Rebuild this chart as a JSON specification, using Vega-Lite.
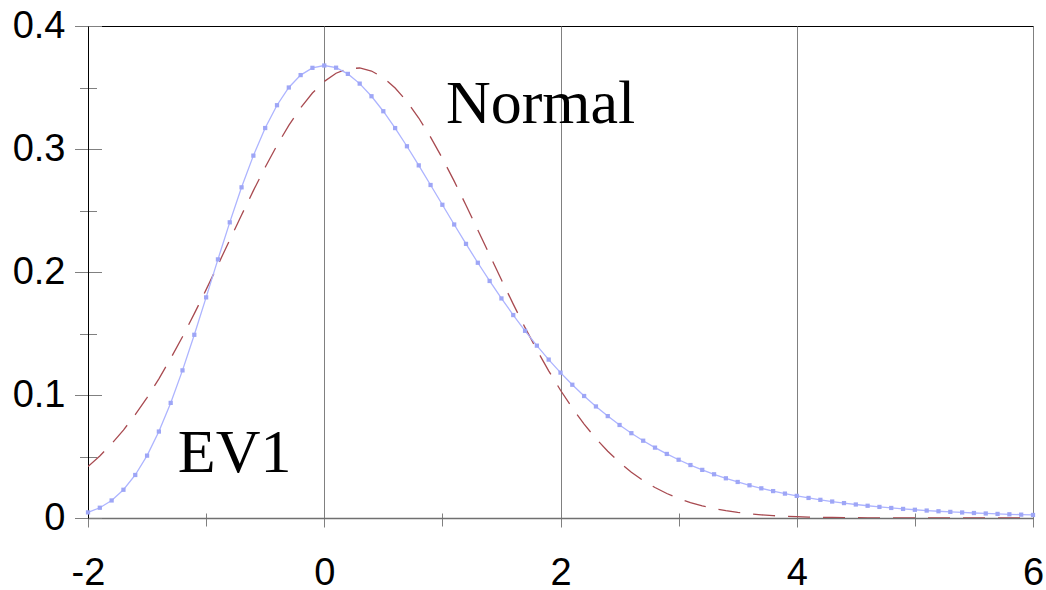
{
  "$schema": "https://vega.github.io/schema/vega-lite/v6.json",
  "width": 945,
  "height": 492,
  "autosize": {"type": "none"},
  "padding": {"left": 88, "top": 26, "right": 13, "bottom": 72},
  "background": "white",
  "config": {
    "view": {"stroke": "#000000", "strokeWidth": 1},
    "axis": {"labelFont": "Liberation Sans", "labelFontSize": 38, "labelColor": "#000000", "title": null}
  },
  "datasets": {
    "ev1": [
      {"x": -2.0, "y": 0.00457}, {"x": -1.9, "y": 0.00834}, {"x": -1.8, "y": 0.01426}, {"x": -1.7, "y": 0.02296},
      {"x": -1.6, "y": 0.03497}, {"x": -1.5, "y": 0.05071}, {"x": -1.4, "y": 0.07029}, {"x": -1.3, "y": 0.09358},
      {"x": -1.2, "y": 0.12002}, {"x": -1.1, "y": 0.14895}, {"x": -1.0, "y": 0.17937}, {"x": -0.9, "y": 0.21025},
      {"x": -0.8, "y": 0.24038}, {"x": -0.7, "y": 0.26884}, {"x": -0.6, "y": 0.2946}, {"x": -0.5, "y": 0.31705},
      {"x": -0.4, "y": 0.3356}, {"x": -0.3, "y": 0.35}, {"x": -0.2, "y": 0.36009}, {"x": -0.1, "y": 0.36598},
      {"x": 0.0, "y": 0.36788}, {"x": 0.1, "y": 0.36611}, {"x": 0.2, "y": 0.36105}, {"x": 0.3, "y": 0.35316},
      {"x": 0.4, "y": 0.3429}, {"x": 0.5, "y": 0.3307}, {"x": 0.6, "y": 0.31701}, {"x": 0.7, "y": 0.30222},
      {"x": 0.8, "y": 0.28669}, {"x": 0.9, "y": 0.27074}, {"x": 1.0, "y": 0.25465}, {"x": 1.1, "y": 0.23862},
      {"x": 1.2, "y": 0.22286}, {"x": 1.3, "y": 0.20752}, {"x": 1.4, "y": 0.19271}, {"x": 1.5, "y": 0.17851},
      {"x": 1.6, "y": 0.16499}, {"x": 1.7, "y": 0.15218}, {"x": 1.8, "y": 0.14011}, {"x": 1.9, "y": 0.12879},
      {"x": 2.0, "y": 0.1182}, {"x": 2.1, "y": 0.10834}, {"x": 2.2, "y": 0.09918}, {"x": 2.3, "y": 0.09069},
      {"x": 2.4, "y": 0.08285}, {"x": 2.5, "y": 0.07562}, {"x": 2.6, "y": 0.06896}, {"x": 2.7, "y": 0.06284},
      {"x": 2.8, "y": 0.05722}, {"x": 2.9, "y": 0.05208}, {"x": 3.0, "y": 0.04737}, {"x": 3.1, "y": 0.04306},
      {"x": 3.2, "y": 0.03913}, {"x": 3.3, "y": 0.03555}, {"x": 3.4, "y": 0.03228}, {"x": 3.5, "y": 0.0293},
      {"x": 3.6, "y": 0.02659}, {"x": 3.7, "y": 0.02412}, {"x": 3.8, "y": 0.02188}, {"x": 3.9, "y": 0.01984},
      {"x": 4.0, "y": 0.01798}, {"x": 4.1, "y": 0.0163}, {"x": 4.2, "y": 0.01477}, {"x": 4.3, "y": 0.01339},
      {"x": 4.4, "y": 0.01213}, {"x": 4.5, "y": 0.01099}, {"x": 4.6, "y": 0.00995}, {"x": 4.7, "y": 0.00901},
      {"x": 4.8, "y": 0.00816}, {"x": 4.9, "y": 0.00739}, {"x": 5.0, "y": 0.00669}, {"x": 5.1, "y": 0.00606},
      {"x": 5.2, "y": 0.00549}, {"x": 5.3, "y": 0.00497}, {"x": 5.4, "y": 0.0045}, {"x": 5.5, "y": 0.00407},
      {"x": 5.6, "y": 0.00368}, {"x": 5.7, "y": 0.00333}, {"x": 5.8, "y": 0.00302}, {"x": 5.9, "y": 0.00273},
      {"x": 6.0, "y": 0.00247}
    ],
    "normal": [
      {"x": -2.0, "y": 0.04185}, {"x": -1.9, "y": 0.05044}, {"x": -1.8, "y": 0.06031}, {"x": -1.7, "y": 0.07149},
      {"x": -1.6, "y": 0.08402}, {"x": -1.5, "y": 0.09793}, {"x": -1.4, "y": 0.11318}, {"x": -1.3, "y": 0.12971},
      {"x": -1.2, "y": 0.14741}, {"x": -1.1, "y": 0.16613}, {"x": -1.0, "y": 0.18566}, {"x": -0.9, "y": 0.20573},
      {"x": -0.8, "y": 0.22607}, {"x": -0.7, "y": 0.24633}, {"x": -0.6, "y": 0.26616}, {"x": -0.5, "y": 0.28518},
      {"x": -0.4, "y": 0.303}, {"x": -0.3, "y": 0.31923}, {"x": -0.2, "y": 0.33351}, {"x": -0.1, "y": 0.34551},
      {"x": 0.0, "y": 0.35494}, {"x": 0.1, "y": 0.36158}, {"x": 0.2, "y": 0.36525}, {"x": 0.3, "y": 0.36586},
      {"x": 0.4, "y": 0.36341}, {"x": 0.5, "y": 0.35794}, {"x": 0.6, "y": 0.3496}, {"x": 0.7, "y": 0.3386},
      {"x": 0.8, "y": 0.32519}, {"x": 0.9, "y": 0.3097}, {"x": 1.0, "y": 0.29247}, {"x": 1.1, "y": 0.27389},
      {"x": 1.2, "y": 0.25433}, {"x": 1.3, "y": 0.2342}, {"x": 1.4, "y": 0.21385}, {"x": 1.5, "y": 0.19364},
      {"x": 1.6, "y": 0.17386}, {"x": 1.7, "y": 0.15479}, {"x": 1.8, "y": 0.13665}, {"x": 1.9, "y": 0.11963},
      {"x": 2.0, "y": 0.10387}, {"x": 2.1, "y": 0.08941}, {"x": 2.2, "y": 0.07633}, {"x": 2.3, "y": 0.0646},
      {"x": 2.4, "y": 0.05423}, {"x": 2.5, "y": 0.04515}, {"x": 2.6, "y": 0.03726}, {"x": 2.7, "y": 0.0305},
      {"x": 2.8, "y": 0.02476}, {"x": 2.9, "y": 0.01992}, {"x": 3.0, "y": 0.0159}, {"x": 3.1, "y": 0.01258},
      {"x": 3.2, "y": 0.00987}, {"x": 3.3, "y": 0.00769}, {"x": 3.4, "y": 0.00593}, {"x": 3.5, "y": 0.00454},
      {"x": 3.6, "y": 0.00344}, {"x": 3.7, "y": 0.00259}, {"x": 3.8, "y": 0.00193}, {"x": 3.9, "y": 0.00143},
      {"x": 4.0, "y": 0.00105}, {"x": 4.1, "y": 0.00076}, {"x": 4.2, "y": 0.00055}, {"x": 4.3, "y": 0.00039},
      {"x": 4.4, "y": 0.00028}, {"x": 4.5, "y": 0.0002}, {"x": 4.6, "y": 0.00014}, {"x": 4.7, "y": 0.00009},
      {"x": 4.8, "y": 0.00007}, {"x": 4.9, "y": 0.00004}, {"x": 5.0, "y": 0.00003}, {"x": 5.1, "y": 0.00002},
      {"x": 5.2, "y": 0.00001}, {"x": 5.3, "y": 0.00001}, {"x": 5.4, "y": 0.0}, {"x": 5.5, "y": 0.0},
      {"x": 5.6, "y": 0.0}, {"x": 5.7, "y": 0.0}, {"x": 5.8, "y": 0.0}, {"x": 5.9, "y": 0.0}, {"x": 6.0, "y": 0.0}
    ],
    "labels": [
      {"x": 1.03, "y": 0.3212, "label": "Normal"},
      {"x": -1.24, "y": 0.0374, "label": "EV1"}
    ]
  },
  "layer": [
    {
      "data": {"name": "normal"},
      "mark": {"type": "line", "color": "#a84a50", "strokeWidth": 1.3, "strokeDash": [22, 13], "clip": true},
      "encoding": {
        "x": {"field": "x", "type": "quantitative", "scale": {"domain": [-2, 6], "nice": false, "zero": false},
          "axis": {"orient": "bottom", "values": [-1, 1, 3, 5], "labels": false, "domain": false, "grid": false,
            "ticks": true, "tickSize": 13, "offset": -5, "tickColor": "#808080", "tickWidth": 1}},
        "y": {"field": "y", "type": "quantitative", "scale": {"domain": [0, 0.4], "nice": false},
          "axis": {"orient": "left", "values": [0.05, 0.15, 0.25, 0.35], "labels": false, "domain": false, "grid": false,
            "ticks": true, "tickSize": 17, "offset": -8.5, "tickColor": "#808080", "tickWidth": 1}}
      }
    },
    {
      "data": {"name": "labels"},
      "mark": {"type": "text", "font": "Liberation Serif", "fontSize": 62, "align": "left", "baseline": "alphabetic", "color": "#000000"},
      "encoding": {
        "x": {"field": "x", "type": "quantitative",
          "axis": {"orient": "bottom", "values": [-2, 0, 2, 4, 6], "labels": false, "domain": false, "grid": false,
            "ticks": true, "tickSize": 9, "tickColor": "#808080", "tickWidth": 1}},
        "y": {"field": "y", "type": "quantitative",
          "axis": {"orient": "left", "values": [0, 0.1, 0.2, 0.3, 0.4], "labels": false, "domain": false, "grid": false,
            "ticks": true, "tickSize": 27, "offset": -13.5, "tickColor": "#808080", "tickWidth": 1}},
        "text": {"field": "label", "type": "nominal"}
      }
    },
    {
      "data": {"name": "ev1"},
      "mark": {"type": "line", "color": "#adb4ff", "strokeWidth": 1.3,
        "point": {"filled": true, "shape": "square", "size": 18, "color": "#9ea6f6"}},
      "encoding": {
        "x": {"field": "x", "type": "quantitative",
          "axis": {"orient": "bottom", "values": [-2, 0, 2, 4, 6], "grid": true, "gridColor": "#808080", "gridWidth": 1, "gridOpacity": 1,
            "domain": true, "domainColor": "#707070", "domainWidth": 1.5, "ticks": false, "labelPadding": 36, "labelFlush": false,
            "labelExpr": "'' + datum.value"}},
        "y": {"field": "y", "type": "quantitative",
          "axis": {"orient": "left", "values": [0, 0.1, 0.2, 0.3, 0.4], "grid": false, "domain": true, "domainColor": "#000000",
            "domainWidth": 1, "ticks": false, "labelPadding": 23, "labelFlush": false,
            "labelExpr": "'' + datum.value"}}
      }
    }
  ],
  "resolve": {"axis": {"x": "independent", "y": "independent"}}
}
